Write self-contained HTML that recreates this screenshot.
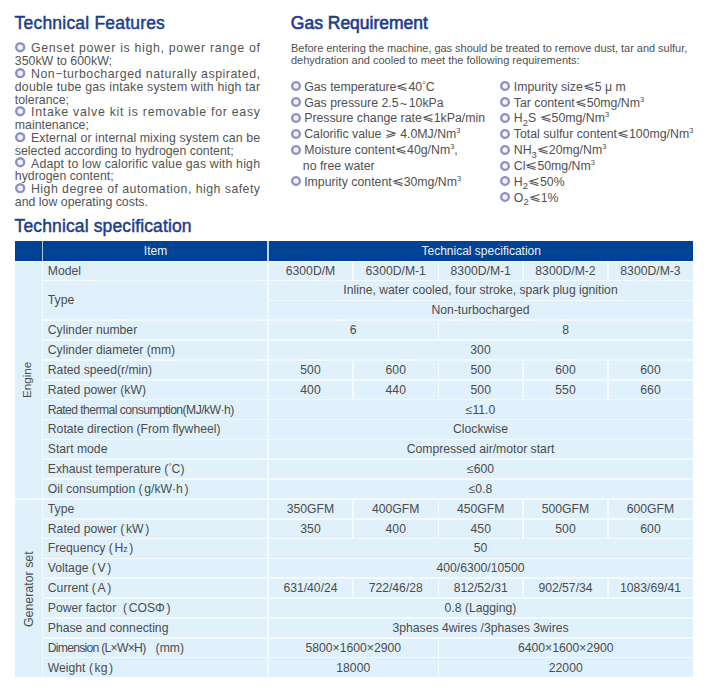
<!DOCTYPE html>
<html><head><meta charset="utf-8"><style>
*{margin:0;padding:0;box-sizing:border-box}
html,body{width:708px;height:691px;overflow:hidden;background:#fff}
body{position:relative;font-family:"Liberation Sans",sans-serif;color:#4e4e4e}
.t{position:absolute;white-space:nowrap;line-height:1}
.h{font-weight:normal;color:#1b3d8c;font-size:17.5px;-webkit-text-stroke:0.45px #1b3d8c}
.f{position:absolute;font-size:12.35px;line-height:1;white-space:nowrap;color:#545454}
.bu{position:absolute;border-radius:50%;border:3px solid #8a8ec5;background:#eef0f8}
.g{position:absolute;font-size:12.3px;line-height:1;white-space:nowrap;color:#505050}
.p{position:absolute;font-size:11px;line-height:1;white-space:nowrap;color:#505050}
.sb{font-size:9.5px;position:relative;top:3.5px}
.sp{font-size:7.5px;position:relative;top:-5px}
.le{display:inline-block;width:12px;height:8px;vertical-align:0}
.hd{position:absolute;background:#004293}
.c{position:absolute;font-size:12.2px;color:#4c4c4c;line-height:1;white-space:nowrap}
.cw{position:absolute;font-size:12px;color:#eef2fa;line-height:1;white-space:nowrap}
.ln{position:absolute;background:#f4fafe}
</style></head><body>
<div class="t h" style="left:14.6px;top:15.1px;letter-spacing:0.2px">Technical Features</div>
<div class="t h" style="left:290.8px;top:15.1px;-webkit-text-stroke:0.6px #1b3d8c">Gas Requirement</div>
<div class="t h" style="left:14.6px;top:218.1px;letter-spacing:0.13px">Technical specification</div>
<svg style="position:absolute;left:15.20px;top:42.20px" width="10.4" height="10.4" viewBox="0 0 10.4 10.4"><circle cx="5.2" cy="5.2" r="4.00" fill="#f2f3f9" stroke="#8c90c6" stroke-width="2.4"/></svg>
<div class="f" style="left:31px;top:42.35px;letter-spacing:0.681px">Genset power is high, power range of</div>
<div class="f" style="left:14.8px;top:55.15px">350kW to 600kW;</div>
<svg style="position:absolute;left:15.20px;top:67.80px" width="10.4" height="10.4" viewBox="0 0 10.4 10.4"><circle cx="5.2" cy="5.2" r="4.00" fill="#f2f3f9" stroke="#8c90c6" stroke-width="2.4"/></svg>
<div class="f" style="left:31px;top:67.95px;letter-spacing:0.519px">Non−turbocharged naturally aspirated,</div>
<div class="f" style="left:14.8px;top:80.75px;letter-spacing:0.202px">double tube gas intake system with high tar</div>
<div class="f" style="left:14.8px;top:93.55px">tolerance;</div>
<svg style="position:absolute;left:15.20px;top:106.20px" width="10.4" height="10.4" viewBox="0 0 10.4 10.4"><circle cx="5.2" cy="5.2" r="4.00" fill="#f2f3f9" stroke="#8c90c6" stroke-width="2.4"/></svg>
<div class="f" style="left:31px;top:106.35px;letter-spacing:0.719px">Intake valve kit is removable for easy</div>
<div class="f" style="left:14.8px;top:119.15px">maintenance;</div>
<svg style="position:absolute;left:15.20px;top:131.80px" width="10.4" height="10.4" viewBox="0 0 10.4 10.4"><circle cx="5.2" cy="5.2" r="4.00" fill="#f2f3f9" stroke="#8c90c6" stroke-width="2.4"/></svg>
<div class="f" style="left:31px;top:131.95px;letter-spacing:0.082px">External or internal mixing system can be</div>
<div class="f" style="left:14.8px;top:144.75px">selected according to hydrogen content;</div>
<svg style="position:absolute;left:15.20px;top:157.40px" width="10.4" height="10.4" viewBox="0 0 10.4 10.4"><circle cx="5.2" cy="5.2" r="4.00" fill="#f2f3f9" stroke="#8c90c6" stroke-width="2.4"/></svg>
<div class="f" style="left:31px;top:157.55px;letter-spacing:0.180px">Adapt to low calorific value gas with high</div>
<div class="f" style="left:14.8px;top:170.35px">hydrogen content;</div>
<svg style="position:absolute;left:15.20px;top:183.00px" width="10.4" height="10.4" viewBox="0 0 10.4 10.4"><circle cx="5.2" cy="5.2" r="4.00" fill="#f2f3f9" stroke="#8c90c6" stroke-width="2.4"/></svg>
<div class="f" style="left:31px;top:183.15px;letter-spacing:0.458px">High degree of automation, high safety</div>
<div class="f" style="left:14.8px;top:195.95px">and low operating costs.</div>
<div class="p" style="left:291px;top:42.8px;letter-spacing:-0.03px">Before entering the machine, gas should be treated to remove dust, tar and sulfur,</div>
<div class="p" style="left:291px;top:54.6px">dehydration and cooled to meet the following requirements:</div>
<svg style="position:absolute;left:290.80px;top:81.30px" width="10" height="10" viewBox="0 0 10 10"><circle cx="5.0" cy="5.0" r="3.83" fill="#f2f3f9" stroke="#8c90c6" stroke-width="2.35"/></svg>
<div class="g" style="left:304.2px;top:80.79px">Gas temperature<svg class="le" viewBox="0 0 12 8"><path d="M10.5 0.6 L2 3.3 L10.5 5.6 M2 5.0 L10.5 7.6" stroke="#505050" stroke-width="1.05" fill="none"/></svg>40<span style="font-size:9px;position:relative;top:-3px">°</span>C</div>
<svg style="position:absolute;left:290.80px;top:97.15px" width="10" height="10" viewBox="0 0 10 10"><circle cx="5.0" cy="5.0" r="3.83" fill="#f2f3f9" stroke="#8c90c6" stroke-width="2.35"/></svg>
<div class="g" style="left:304.2px;top:96.64px">Gas pressure 2.5<span style="margin:0 1.5px;position:relative;top:1px">~</span>10kPa</div>
<svg style="position:absolute;left:290.80px;top:113.00px" width="10" height="10" viewBox="0 0 10 10"><circle cx="5.0" cy="5.0" r="3.83" fill="#f2f3f9" stroke="#8c90c6" stroke-width="2.35"/></svg>
<div class="g" style="left:304.2px;top:112.49px">Pressure change rate<svg class="le" viewBox="0 0 12 8"><path d="M10.5 0.6 L2 3.3 L10.5 5.6 M2 5.0 L10.5 7.6" stroke="#505050" stroke-width="1.05" fill="none"/></svg>1kPa/min</div>
<svg style="position:absolute;left:290.80px;top:128.85px" width="10" height="10" viewBox="0 0 10 10"><circle cx="5.0" cy="5.0" r="3.83" fill="#f2f3f9" stroke="#8c90c6" stroke-width="2.35"/></svg>
<div class="g" style="left:304.2px;top:128.34px">Calorific value <svg class="le" viewBox="0 0 12 8"><path d="M1.5 0.6 L10 3.3 L1.5 5.6 M10 5.0 L1.5 7.6" stroke="#505050" stroke-width="1.05" fill="none"/></svg> 4.0MJ/Nm<span class="sp">3</span></div>
<svg style="position:absolute;left:290.80px;top:144.70px" width="10" height="10" viewBox="0 0 10 10"><circle cx="5.0" cy="5.0" r="3.83" fill="#f2f3f9" stroke="#8c90c6" stroke-width="2.35"/></svg>
<div class="g" style="left:304.2px;top:144.19px">Moisture content<svg class="le" viewBox="0 0 12 8"><path d="M10.5 0.6 L2 3.3 L10.5 5.6 M2 5.0 L10.5 7.6" stroke="#505050" stroke-width="1.05" fill="none"/></svg>40g/Nm<span class="sp">3</span>,</div>
<div class="g" style="left:302.8px;top:160.04px">no free water</div>
<svg style="position:absolute;left:290.80px;top:176.40px" width="10" height="10" viewBox="0 0 10 10"><circle cx="5.0" cy="5.0" r="3.83" fill="#f2f3f9" stroke="#8c90c6" stroke-width="2.35"/></svg>
<div class="g" style="left:304.2px;top:175.89px">Impurity content<svg class="le" viewBox="0 0 12 8"><path d="M10.5 0.6 L2 3.3 L10.5 5.6 M2 5.0 L10.5 7.6" stroke="#505050" stroke-width="1.05" fill="none"/></svg>30mg/Nm<span class="sp">3</span></div>
<svg style="position:absolute;left:499.70px;top:81.30px" width="10" height="10" viewBox="0 0 10 10"><circle cx="5.0" cy="5.0" r="3.83" fill="#f2f3f9" stroke="#8c90c6" stroke-width="2.35"/></svg>
<div class="g" style="left:513.8px;top:80.79px">Impurity size<svg class="le" viewBox="0 0 12 8"><path d="M10.5 0.6 L2 3.3 L10.5 5.6 M2 5.0 L10.5 7.6" stroke="#505050" stroke-width="1.05" fill="none"/></svg>5 μ m</div>
<svg style="position:absolute;left:499.70px;top:97.15px" width="10" height="10" viewBox="0 0 10 10"><circle cx="5.0" cy="5.0" r="3.83" fill="#f2f3f9" stroke="#8c90c6" stroke-width="2.35"/></svg>
<div class="g" style="left:513.8px;top:96.64px">Tar content<svg class="le" viewBox="0 0 12 8"><path d="M10.5 0.6 L2 3.3 L10.5 5.6 M2 5.0 L10.5 7.6" stroke="#505050" stroke-width="1.05" fill="none"/></svg>50mg/Nm<span class="sp">3</span></div>
<svg style="position:absolute;left:499.70px;top:113.00px" width="10" height="10" viewBox="0 0 10 10"><circle cx="5.0" cy="5.0" r="3.83" fill="#f2f3f9" stroke="#8c90c6" stroke-width="2.35"/></svg>
<div class="g" style="left:513.8px;top:112.49px">H<span class="sb">2</span>S <svg class="le" viewBox="0 0 12 8"><path d="M10.5 0.6 L2 3.3 L10.5 5.6 M2 5.0 L10.5 7.6" stroke="#505050" stroke-width="1.05" fill="none"/></svg>50mg/Nm<span class="sp">3</span></div>
<svg style="position:absolute;left:499.70px;top:128.85px" width="10" height="10" viewBox="0 0 10 10"><circle cx="5.0" cy="5.0" r="3.83" fill="#f2f3f9" stroke="#8c90c6" stroke-width="2.35"/></svg>
<div class="g" style="left:513.8px;top:128.34px">Total sulfur content<svg class="le" viewBox="0 0 12 8"><path d="M10.5 0.6 L2 3.3 L10.5 5.6 M2 5.0 L10.5 7.6" stroke="#505050" stroke-width="1.05" fill="none"/></svg>100mg/Nm<span class="sp">3</span></div>
<svg style="position:absolute;left:499.70px;top:144.70px" width="10" height="10" viewBox="0 0 10 10"><circle cx="5.0" cy="5.0" r="3.83" fill="#f2f3f9" stroke="#8c90c6" stroke-width="2.35"/></svg>
<div class="g" style="left:513.8px;top:144.19px">NH<span class="sb">3</span><svg class="le" viewBox="0 0 12 8"><path d="M10.5 0.6 L2 3.3 L10.5 5.6 M2 5.0 L10.5 7.6" stroke="#505050" stroke-width="1.05" fill="none"/></svg>20mg/Nm<span class="sp">3</span></div>
<svg style="position:absolute;left:499.70px;top:160.55px" width="10" height="10" viewBox="0 0 10 10"><circle cx="5.0" cy="5.0" r="3.83" fill="#f2f3f9" stroke="#8c90c6" stroke-width="2.35"/></svg>
<div class="g" style="left:513.8px;top:160.04px">Cl<svg class="le" viewBox="0 0 12 8"><path d="M10.5 0.6 L2 3.3 L10.5 5.6 M2 5.0 L10.5 7.6" stroke="#505050" stroke-width="1.05" fill="none"/></svg>50mg/Nm<span class="sp">3</span></div>
<svg style="position:absolute;left:499.70px;top:176.40px" width="10" height="10" viewBox="0 0 10 10"><circle cx="5.0" cy="5.0" r="3.83" fill="#f2f3f9" stroke="#8c90c6" stroke-width="2.35"/></svg>
<div class="g" style="left:513.8px;top:175.89px">H<span class="sb">2</span><svg class="le" viewBox="0 0 12 8"><path d="M10.5 0.6 L2 3.3 L10.5 5.6 M2 5.0 L10.5 7.6" stroke="#505050" stroke-width="1.05" fill="none"/></svg>50%</div>
<svg style="position:absolute;left:499.70px;top:192.25px" width="10" height="10" viewBox="0 0 10 10"><circle cx="5.0" cy="5.0" r="3.83" fill="#f2f3f9" stroke="#8c90c6" stroke-width="2.35"/></svg>
<div class="g" style="left:513.8px;top:191.74px">O<span class="sb">2</span><svg class="le" viewBox="0 0 12 8"><path d="M10.5 0.6 L2 3.3 L10.5 5.6 M2 5.0 L10.5 7.6" stroke="#505050" stroke-width="1.05" fill="none"/></svg>1%</div>
<div style="position:absolute;left:15px;top:260.6px;width:678px;height:416.9px;background:#e0f1fb"></div>
<div class="hd" style="left:15px;top:241.3px;width:678px;height:19.30000000000001px"></div>
<div class="ln" style="left:41.5px;top:260.6px;width:1.5px;height:416.9px"></div>
<div class="ln" style="left:41.7px;top:241.3px;width:1.6px;height:19.30000000000001px;background:#b7c6e6"></div>
<div class="ln" style="left:267.4px;top:241.3px;width:1.2px;height:19.30000000000001px;background:#c4d2ec"></div>
<div class="ln" style="left:15px;top:260.6px;width:678px;height:1px"></div>
<div class="cw" style="left:143.8px;top:245.3px">Item</div>
<div class="cw" style="left:421.5px;top:245.3px">Technical specification</div>
<div class="c" style="left:47.8px;top:264.55px">Model</div>
<div class="c" style="left:268px;width:85px;text-align:center;top:264.55px">6300D/M</div>
<div class="ln" style="left:352.25px;top:260.60px;width:1.5px;height:19.85px"></div>
<div class="c" style="left:353px;width:85.5px;text-align:center;top:264.55px">6300D/M-1</div>
<div class="ln" style="left:437.75px;top:260.60px;width:1.5px;height:19.85px"></div>
<div class="c" style="left:438.5px;width:84.5px;text-align:center;top:264.55px">8300D/M-1</div>
<div class="ln" style="left:522.25px;top:260.60px;width:1.5px;height:19.85px"></div>
<div class="c" style="left:523px;width:85px;text-align:center;top:264.55px">8300D/M-2</div>
<div class="ln" style="left:607.25px;top:260.60px;width:1.5px;height:19.85px"></div>
<div class="c" style="left:608px;width:85px;text-align:center;top:264.55px">8300D/M-3</div>
<div class="ln" style="left:42px;top:279.70px;width:651px;height:1.6px"></div>
<div class="c" style="left:47.8px;top:294.33px">Type</div>
<div class="c" style="left:268px;width:425px;text-align:center;top:284.40px">Inline, water cooled, four stroke, spark plug ignition</div>
<div class="ln" style="left:268px;top:299.55px;width:425px;height:1.6px"></div>
<div class="c" style="left:268px;width:425px;text-align:center;top:304.25px">Non-turbocharged</div>
<div class="ln" style="left:42px;top:319.41px;width:651px;height:1.6px"></div>
<div class="c" style="left:47.8px;top:324.11px">Cylinder number</div>
<div class="c" style="left:268px;width:170.5px;text-align:center;top:324.11px">6</div>
<div class="ln" style="left:437.75px;top:320.16px;width:1.5px;height:19.85px"></div>
<div class="c" style="left:438.5px;width:254.5px;text-align:center;top:324.11px">8</div>
<div class="ln" style="left:42px;top:339.26px;width:651px;height:1.6px"></div>
<div class="c" style="left:47.8px;top:343.96px">Cylinder diameter (mm)</div>
<div class="c" style="left:268px;width:425px;text-align:center;top:343.96px">300</div>
<div class="ln" style="left:42px;top:359.11px;width:651px;height:1.6px"></div>
<div class="c" style="left:47.8px;top:363.81px">Rated speed(r/min)</div>
<div class="c" style="left:268px;width:85px;text-align:center;top:363.81px">500</div>
<div class="ln" style="left:352.25px;top:359.86px;width:1.5px;height:19.85px"></div>
<div class="c" style="left:353px;width:85.5px;text-align:center;top:363.81px">600</div>
<div class="ln" style="left:437.75px;top:359.86px;width:1.5px;height:19.85px"></div>
<div class="c" style="left:438.5px;width:84.5px;text-align:center;top:363.81px">500</div>
<div class="ln" style="left:522.25px;top:359.86px;width:1.5px;height:19.85px"></div>
<div class="c" style="left:523px;width:85px;text-align:center;top:363.81px">600</div>
<div class="ln" style="left:607.25px;top:359.86px;width:1.5px;height:19.85px"></div>
<div class="c" style="left:608px;width:85px;text-align:center;top:363.81px">600</div>
<div class="ln" style="left:42px;top:378.96px;width:651px;height:1.6px"></div>
<div class="c" style="left:47.8px;top:383.66px">Rated power (kW)</div>
<div class="c" style="left:268px;width:85px;text-align:center;top:383.66px">400</div>
<div class="ln" style="left:352.25px;top:379.71px;width:1.5px;height:19.85px"></div>
<div class="c" style="left:353px;width:85.5px;text-align:center;top:383.66px">440</div>
<div class="ln" style="left:437.75px;top:379.71px;width:1.5px;height:19.85px"></div>
<div class="c" style="left:438.5px;width:84.5px;text-align:center;top:383.66px">500</div>
<div class="ln" style="left:522.25px;top:379.71px;width:1.5px;height:19.85px"></div>
<div class="c" style="left:523px;width:85px;text-align:center;top:383.66px">550</div>
<div class="ln" style="left:607.25px;top:379.71px;width:1.5px;height:19.85px"></div>
<div class="c" style="left:608px;width:85px;text-align:center;top:383.66px">660</div>
<div class="ln" style="left:42px;top:398.82px;width:651px;height:1.6px"></div>
<div class="c" style="left:47.8px;top:403.52px"><span style="letter-spacing:-0.57px">Rated thermal consumption(MJ/kW·h)</span></div>
<div class="c" style="left:268px;width:425px;text-align:center;top:403.52px">≤11.0</div>
<div class="ln" style="left:42px;top:418.67px;width:651px;height:1.6px"></div>
<div class="c" style="left:47.8px;top:423.37px">Rotate direction (From flywheel)</div>
<div class="c" style="left:268px;width:425px;text-align:center;top:423.37px">Clockwise</div>
<div class="ln" style="left:42px;top:438.52px;width:651px;height:1.6px"></div>
<div class="c" style="left:47.8px;top:443.22px">Start mode</div>
<div class="c" style="left:268px;width:425px;text-align:center;top:443.22px">Compressed air/motor start</div>
<div class="ln" style="left:42px;top:458.37px;width:651px;height:1.6px"></div>
<div class="c" style="left:47.8px;top:463.07px">Exhaust temperature (<span style="font-size:8px;position:relative;top:-4px">°</span>C)</div>
<div class="c" style="left:268px;width:425px;text-align:center;top:463.07px">≤600</div>
<div class="ln" style="left:42px;top:478.23px;width:651px;height:1.6px"></div>
<div class="c" style="left:47.8px;top:482.93px">Oil consumption&nbsp;(<span style="padding:0 1.6px">g/kW·h</span>)</div>
<div class="c" style="left:268px;width:425px;text-align:center;top:482.93px">≤0.8</div>
<div class="ln" style="left:15px;top:498.08px;width:678px;height:1.6px"></div>
<div class="c" style="left:47.8px;top:502.78px">Type</div>
<div class="c" style="left:268px;width:85px;text-align:center;top:502.78px">350GFM</div>
<div class="ln" style="left:352.25px;top:498.83px;width:1.5px;height:19.85px"></div>
<div class="c" style="left:353px;width:85.5px;text-align:center;top:502.78px">400GFM</div>
<div class="ln" style="left:437.75px;top:498.83px;width:1.5px;height:19.85px"></div>
<div class="c" style="left:438.5px;width:84.5px;text-align:center;top:502.78px">450GFM</div>
<div class="ln" style="left:522.25px;top:498.83px;width:1.5px;height:19.85px"></div>
<div class="c" style="left:523px;width:85px;text-align:center;top:502.78px">500GFM</div>
<div class="ln" style="left:607.25px;top:498.83px;width:1.5px;height:19.85px"></div>
<div class="c" style="left:608px;width:85px;text-align:center;top:502.78px">600GFM</div>
<div class="ln" style="left:42px;top:517.93px;width:651px;height:1.6px"></div>
<div class="c" style="left:47.8px;top:522.63px">Rated power&nbsp;(<span style="padding:0 1.6px">kW</span>)</div>
<div class="c" style="left:268px;width:85px;text-align:center;top:522.63px">350</div>
<div class="ln" style="left:352.25px;top:518.68px;width:1.5px;height:19.85px"></div>
<div class="c" style="left:353px;width:85.5px;text-align:center;top:522.63px">400</div>
<div class="ln" style="left:437.75px;top:518.68px;width:1.5px;height:19.85px"></div>
<div class="c" style="left:438.5px;width:84.5px;text-align:center;top:522.63px">450</div>
<div class="ln" style="left:522.25px;top:518.68px;width:1.5px;height:19.85px"></div>
<div class="c" style="left:523px;width:85px;text-align:center;top:522.63px">500</div>
<div class="ln" style="left:607.25px;top:518.68px;width:1.5px;height:19.85px"></div>
<div class="c" style="left:608px;width:85px;text-align:center;top:522.63px">600</div>
<div class="ln" style="left:42px;top:537.78px;width:651px;height:1.6px"></div>
<div class="c" style="left:47.8px;top:542.48px">Frequency&nbsp;(<span style="padding:0 1.6px">H<span style="font-size:9px">z</span></span>)</div>
<div class="c" style="left:268px;width:425px;text-align:center;top:542.48px">50</div>
<div class="ln" style="left:42px;top:557.64px;width:651px;height:1.6px"></div>
<div class="c" style="left:47.8px;top:562.33px">Voltage&nbsp;(<span style="padding:0 1.6px">V</span>)</div>
<div class="c" style="left:268px;width:425px;text-align:center;top:562.33px">400/6300/10500</div>
<div class="ln" style="left:42px;top:577.49px;width:651px;height:1.6px"></div>
<div class="c" style="left:47.8px;top:582.19px">Current&nbsp;(<span style="padding:0 1.6px">A</span>)</div>
<div class="c" style="left:268px;width:85px;text-align:center;top:582.19px">631/40/24</div>
<div class="ln" style="left:352.25px;top:578.24px;width:1.5px;height:19.85px"></div>
<div class="c" style="left:353px;width:85.5px;text-align:center;top:582.19px">722/46/28</div>
<div class="ln" style="left:437.75px;top:578.24px;width:1.5px;height:19.85px"></div>
<div class="c" style="left:438.5px;width:84.5px;text-align:center;top:582.19px">812/52/31</div>
<div class="ln" style="left:522.25px;top:578.24px;width:1.5px;height:19.85px"></div>
<div class="c" style="left:523px;width:85px;text-align:center;top:582.19px">902/57/34</div>
<div class="ln" style="left:607.25px;top:578.24px;width:1.5px;height:19.85px"></div>
<div class="c" style="left:608px;width:85px;text-align:center;top:582.19px">1083/69/41</div>
<div class="ln" style="left:42px;top:597.34px;width:651px;height:1.6px"></div>
<div class="c" style="left:47.8px;top:602.04px">Power factor &nbsp;(<span style="padding:0 1.6px">COSΦ</span>)</div>
<div class="c" style="left:268px;width:425px;text-align:center;top:602.04px">0.8 (Lagging)</div>
<div class="ln" style="left:42px;top:617.19px;width:651px;height:1.6px"></div>
<div class="c" style="left:47.8px;top:621.89px">Phase and connecting</div>
<div class="c" style="left:268px;width:425px;text-align:center;top:621.89px">3phases 4wires /3phases 3wires</div>
<div class="ln" style="left:42px;top:637.05px;width:651px;height:1.6px"></div>
<div class="c" style="left:47.8px;top:641.74px"><span style="letter-spacing:-0.75px">Dimension (L×W×H)</span>&nbsp;&nbsp; (mm)</div>
<div class="c" style="left:268px;width:170.5px;text-align:center;top:641.74px">5800×1600×2900</div>
<div class="ln" style="left:437.75px;top:637.80px;width:1.5px;height:19.85px"></div>
<div class="c" style="left:438.5px;width:254.5px;text-align:center;top:641.74px">6400×1600×2900</div>
<div class="ln" style="left:42px;top:656.90px;width:651px;height:1.6px"></div>
<div class="c" style="left:47.8px;top:661.60px">Weight&nbsp;(<span style="padding:0 1.6px">kg</span>)</div>
<div class="c" style="left:268px;width:170.5px;text-align:center;top:661.60px">18000</div>
<div class="ln" style="left:437.75px;top:657.65px;width:1.5px;height:19.85px"></div>
<div class="c" style="left:438.5px;width:254.5px;text-align:center;top:661.60px">22000</div>
<div class="ln" style="left:267.25px;top:260.6px;width:1.5px;height:416.9px"></div>
<div class="c" style="left:-23.2px;width:100px;text-align:center;top:374.21px;transform:rotate(-90deg);font-size:11.7px">Engine</div>
<div class="c" style="left:-21.5px;width:100px;text-align:center;top:582.66px;transform:rotate(-90deg);font-size:12.4px">Generator set</div>
</body></html>
